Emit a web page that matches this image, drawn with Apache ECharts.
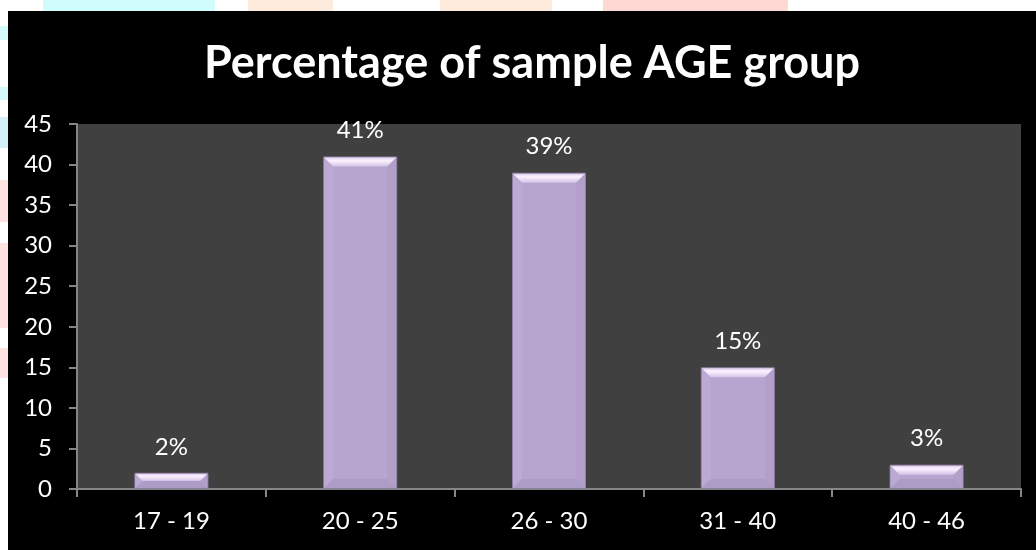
<!DOCTYPE html>
<html>
<head>
<meta charset="utf-8">
<script src="https://cdn.jsdelivr.net/npm/echarts@6/dist/echarts.min.js"></script>
<style>html,body{margin:0;padding:0;background:#fff}#c{width:1036px;height:550px}</style>
</head>
<body>
<div id="c"></div>
<script>
var categories = ['17 - 19', '20 - 25', '26 - 30', '31 - 40', '40 - 46'];
var values = [2, 41, 39, 15, 3];
var labels = ['2%', '41%', '39%', '15%', '3%'];
var yTicks = { min: 0, max: 45, interval: 5 };
var titleText = 'Percentage of sample AGE group';

var chart = echarts.init(document.getElementById('c'));
var FONT = 'Lato, "Open Sans", sans-serif';
var BW = 74;

function deco(x, y, w, h, c) {
  return { type: 'rect', shape: { x: x, y: y, width: w, height: h }, style: { fill: c }, silent: true, z: -1 };
}

chart.setOption({
  backgroundColor: '#000',
  animation: false,
  graphic: [
    deco(0, 0, 1036, 11, '#ffffff'),
    deco(0, 0, 8, 550, '#ffffff'),
    deco(43, 0, 172, 11, '#d0fcfc'),
    deco(248, 0, 85, 11, '#ffebdc'),
    deco(440, 0, 112, 11, '#ffebdc'),
    deco(603, 0, 185, 11, '#ffd7d3'),
    deco(0, 26, 8, 14, '#d4fafc'),
    deco(0, 87, 8, 13, '#d4fafc'),
    deco(0, 117, 8, 31, '#d6f0fa'),
    deco(0, 180, 8, 42, '#ffe3e3'),
    deco(0, 243, 8, 85, '#ffe3e3'),
    deco(0, 348, 8, 30, '#ffe3e3')
  ],
  title: {
    text: titleText,
    left: 199,
    top: 36,
    textStyle: { color: '#fff', fontFamily: FONT, fontWeight: 'bold', fontSize: 45 }
  },
  grid: { left: 77, right: 15, top: 124, bottom: 61, show: true, backgroundColor: '#404040', borderWidth: 0 },
  xAxis: {
    type: 'category',
    data: categories,
    axisLine: { lineStyle: { color: '#868686', width: 2 } },
    axisTick: { show: true, length: 8, lineStyle: { color: '#868686', width: 2 } },
    axisLabel: { color: '#fff', fontFamily: FONT, fontSize: 24, margin: 20 },
    splitLine: { show: false }
  },
  yAxis: {
    type: 'value',
    min: yTicks.min, max: yTicks.max, interval: yTicks.interval,
    axisLine: { show: true, lineStyle: { color: '#868686', width: 2 } },
    axisTick: { show: true, length: 8, lineStyle: { color: '#868686', width: 2 } },
    axisLabel: { color: '#fff', fontFamily: FONT, fontSize: 24, margin: 25 },
    splitLine: { show: false }
  },
  series: [
    {
      type: 'bar',
      data: values,
      barWidth: BW,
      itemStyle: { color: '#b7a5d0', borderColor: '#8c7fa0', borderWidth: 1 },
      label: {
        show: true, position: 'top', distance: 14,
        color: '#fff', fontFamily: FONT, fontSize: 24,
        formatter: function (p) { return labels[p.dataIndex]; }
      }
    },
    {
      type: 'custom',
      data: values.map(function (v, i) { return [i, v]; }),
      z: 3,
      silent: true,
      renderItem: function (params, api) {
        var top = api.coord([api.value(0), api.value(1)]);
        var base = api.coord([api.value(0), 0]);
        var x0 = top[0] - BW / 2 + 1, x1 = top[0] + BW / 2 - 1;
        var y0 = top[1] + 1, y1 = base[1] - 1;
        var h = y1 - y0;
        var b = Math.min(9, h / 2);
        return {
          type: 'group',
          children: [
            { type: 'polygon', shape: { points: [[x0, y0], [x0 + b, y0 + b], [x0 + b, y1 - b], [x0, y1]] },
              style: { fill: '#bcaad5' } },
            { type: 'polygon', shape: { points: [[x1, y0], [x1 - b, y0 + b], [x1 - b, y1 - b], [x1, y1]] },
              style: { fill: '#b2a0cb' } },
            { type: 'polygon', shape: { points: [[x0, y1], [x1, y1], [x1 - b, y1 - b], [x0 + b, y1 - b]] },
              style: { fill: '#ad9cc6' } },
            { type: 'polygon', shape: { points: [[x0, y0], [x1, y0], [x1 - b, y0 + b], [x0 + b, y0 + b]] },
              style: { fill: new echarts.graphic.LinearGradient(0, 0, 0, 1, [{ offset: 0, color: '#e2d2f0' }, { offset: 0.35, color: '#fbf2ff' }, { offset: 1, color: '#d4c3e6' }]) } }
          ]
        };
      }
    }
  ]
});
</script>
</body>
</html>
